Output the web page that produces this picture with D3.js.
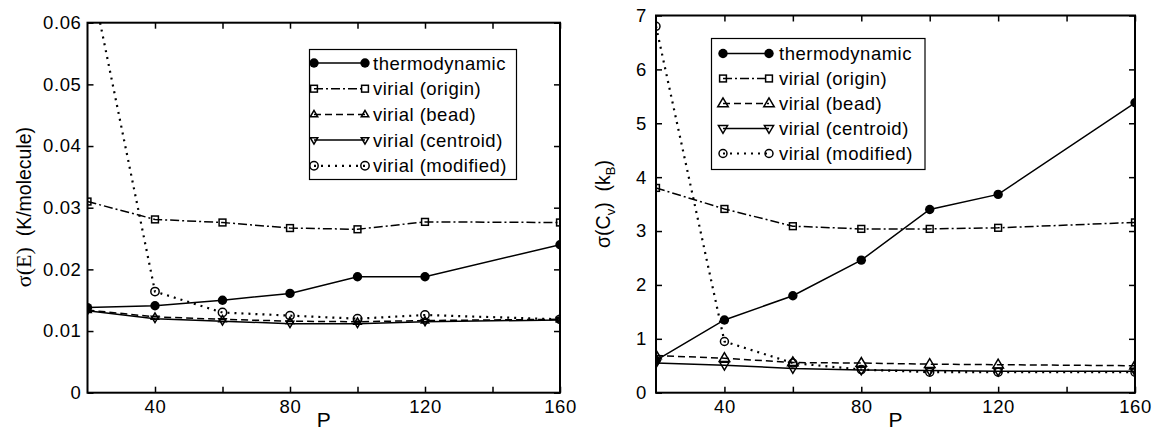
<!DOCTYPE html>
<html><head><meta charset="utf-8">
<script src="https://cdn.jsdelivr.net/npm/d3@7"></script>
<style>
body{margin:0;background:#fff;}
text{font-family:"Liberation Sans",Arial,sans-serif;fill:#000;}
</style></head>
<body><svg id="c" width="1156" height="437"></svg>
<script>
const P = [20, 40, 60, 80, 100, 120, 160];
const xTicks = [40, 60, 80, 100, 120, 140, 160];
const xTickLabels = ["40", "", "80", "", "120", "", "160"];
const seriesNames = ["thermodynamic", "virial (origin)", "virial (bead)", "virial (centroid)", "virial (modified)"];

const leftThermo    = [0.0138, 0.0141, 0.0150, 0.0161, 0.0188, 0.0188, 0.0240];
const leftOrigin    = [0.0310, 0.0281, 0.0276, 0.0267, 0.0265, 0.0277, 0.0276];
const leftBead      = [0.0134, 0.0123, 0.0119, 0.0116, 0.0115, 0.0117, 0.0119];
const leftCentroid  = [0.0133, 0.0120, 0.0116, 0.0112, 0.0112, 0.0115, 0.0118];
const leftModified  = [0.0700, 0.0164, 0.0130, 0.0125, 0.0120, 0.0126, 0.0119];
const leftYTicks = [0, 0.01, 0.02, 0.03, 0.04, 0.05, 0.06];
const leftYTickLabels = ["0", "0.01", "0.02", "0.03", "0.04", "0.05", "0.06"];

const rightThermo   = [0.60, 1.35, 1.80, 2.46, 3.40, 3.68, 5.38];
const rightOrigin   = [3.80, 3.41, 3.09, 3.04, 3.04, 3.06, 3.16];
const rightBead     = [0.69, 0.64, 0.56, 0.55, 0.53, 0.52, 0.50];
const rightCentroid = [0.55, 0.51, 0.45, 0.42, 0.41, 0.40, 0.40];
const rightModified = [6.80, 0.95, 0.55, 0.43, 0.38, 0.38, 0.38];
const rightYTicks = [0, 1, 2, 3, 4, 5, 6, 7];
const rightYTickLabels = ["0", "1", "2", "3", "4", "5", "6", "7"];

const svg = d3.select("#c");

const styles = [
  {dash: null, marker: "fcircle"},
  {dash: "9,3,2,3", marker: "square"},
  {dash: "7,4", marker: "tri"},
  {dash: null, marker: "itri"},
  {dash: "2,5", marker: "ocircle", width: 2.2}
];

function drawMarker(g, type, x, y, s) {
  if (type === "fcircle") {
    g.append("circle").attr("cx", x).attr("cy", y).attr("r", 4.7*s).attr("fill", "#000");
  } else if (type === "ocircle") {
    g.append("circle").attr("cx", x).attr("cy", y).attr("r", 3.8*s).attr("fill", "none").attr("stroke", "#000").attr("stroke-width", 1.5);
  } else if (type === "square") {
    const h = 3.4*s;
    g.append("rect").attr("x", x-h).attr("y", y-h).attr("width", 2*h).attr("height", 2*h).attr("fill", "none").attr("stroke", "#000").attr("stroke-width", 1.5);
  } else if (type === "tri" || type === "itri") {
    const r = 4.6*s, sgn = type === "tri" ? 1 : -1;
    const pts = [[x, y - sgn*r], [x - r*0.95, y + sgn*r*0.6], [x + r*0.95, y + sgn*r*0.6]];
    g.append("polygon").attr("points", pts.map(p => p.join(",")).join(" ")).attr("fill", "none").attr("stroke", "#000").attr("stroke-width", 1.5);
  }
}

function panel(cfg) {
  const x = d3.scaleLinear().domain([20, 160]).range([cfg.l, cfg.r]);
  const y = d3.scaleLinear().domain(cfg.yDomain).range([cfg.b, cfg.t]);
  const g = svg.append("g");
  const clipId = "clip" + cfg.id;
  svg.append("clipPath").attr("id", clipId).append("rect")
    .attr("x", cfg.l).attr("y", cfg.t).attr("width", cfg.r - cfg.l).attr("height", cfg.b - cfg.t);

  const fmtX = (d, i) => xTickLabels[i];
  const fmtY = (d, i) => cfg.yLabels[i];
  const ax = [
    g.append("g").attr("transform", `translate(0,${cfg.b})`).call(d3.axisBottom(x).tickValues(xTicks).tickFormat(fmtX).tickSizeInner(-6).tickSizeOuter(0).tickPadding(7)),
    g.append("g").attr("transform", `translate(0,${cfg.t})`).call(d3.axisTop(x).tickValues(xTicks).tickFormat("").tickSizeInner(-6).tickSizeOuter(0)),
    g.append("g").attr("transform", `translate(${cfg.l},0)`).call(d3.axisLeft(y).tickValues(cfg.yTicks).tickFormat(fmtY).tickSizeInner(-6).tickSizeOuter(0).tickPadding(cfg.yPad)),
    g.append("g").attr("transform", `translate(${cfg.r},0)`).call(d3.axisRight(y).tickValues(cfg.yTicks).tickFormat("").tickSizeInner(-6).tickSizeOuter(0))
  ];
  ax.forEach(a => {
    a.select(".domain").remove();
    a.selectAll("line").attr("stroke", "#000").attr("stroke-width", 1.5);
    a.selectAll("text").attr("font-size", 18.5).attr("letter-spacing", 0.6).attr("font-family", "Liberation Sans, Arial, sans-serif").attr("fill", "#000");
  });
  g.append("rect").attr("x", cfg.l).attr("y", cfg.t).attr("width", cfg.r - cfg.l).attr("height", cfg.b - cfg.t)
    .attr("fill", "none").attr("stroke", "#000").attr("stroke-width", 2);

  const dg = g.append("g").attr("clip-path", `url(#${clipId})`);
  const line = d3.line().x((d, i) => x(P[i])).y(d => y(d));
  cfg.series.forEach((vals, k) => {
    const st = styles[k];
    dg.append("path").attr("d", line(vals)).attr("fill", "none").attr("stroke", "#000")
      .attr("stroke-width", st.width || 1.5).attr("stroke-dasharray", st.dash);
    vals.forEach((v, i) => drawMarker(dg, st.marker, x(P[i]), y(v), cfg.ms[k]));
  });

  const L = cfg.legend;
  const lg = g.append("g");
  lg.append("rect").attr("x", L.x0).attr("y", L.y0).attr("width", L.x1 - L.x0).attr("height", L.y1 - L.y0)
    .attr("fill", "#fff").attr("stroke", "#000").attr("stroke-width", 1.2);
  seriesNames.forEach((name, k) => {
    const st = styles[k];
    const yy = L.row0 + k * L.dy;
    lg.append("line").attr("x1", L.lx0).attr("x2", L.lx1).attr("y1", yy).attr("y2", yy)
      .attr("stroke", "#000").attr("stroke-width", st.width || 1.5).attr("stroke-dasharray", st.dash);
    drawMarker(lg, st.marker, L.lx0, yy, cfg.ms[k]);
    drawMarker(lg, st.marker, L.lx1, yy, cfg.ms[k]);
    lg.append("text").attr("x", L.tx).attr("y", yy + 6.5).attr("font-size", 18.5).attr("letter-spacing", 0.5).text(name);
  });

  g.append("text").attr("x", (cfg.l + cfg.r) / 2).attr("y", 427).attr("text-anchor", "middle")
    .attr("font-size", 21).text("P");
  return {x, y};
}

panel({
  id: "L", l: 87.5, r: 560, t: 22.7, b: 392.7, yDomain: [0, 0.06],
  yTicks: leftYTicks, yLabels: leftYTickLabels, yPad: 6,
  series: [leftThermo, leftOrigin, leftBead, leftCentroid, leftModified],
  ms: [1, 1, 0.85, 0.85, 1.1],
  legend: {x0: 309.5, x1: 516.5, y0: 49.5, y1: 179.5, row0: 63, dy: 25.7, lx0: 314, lx1: 365, tx: 373}
});
panel({
  id: "R", l: 656, r: 1135, t: 15.5, b: 392.7, yDomain: [0, 7],
  yTicks: rightYTicks, yLabels: rightYTickLabels, yPad: 9,
  series: [rightThermo, rightOrigin, rightBead, rightCentroid, rightModified],
  ms: [1, 1, 1.2, 1.05, 1.05],
  legend: {x0: 711.5, x1: 925, y0: 38.5, y1: 169.5, row0: 53.5, dy: 25, lx0: 723, lx1: 769, tx: 779}
});

const yl1 = svg.append("text").attr("transform", "translate(31,207) rotate(-90)").attr("text-anchor", "middle").attr("font-size", 19.5);
yl1.append("tspan").attr("font-family", "Liberation Serif, Times New Roman, serif").attr("font-size", 22).text("σ(E)");
yl1.append("tspan").text("\u00a0\u00a0(K/molecule)");

const yl2 = svg.append("text").attr("transform", "translate(610,204) rotate(-90)").attr("text-anchor", "middle").attr("font-size", 19.5);
yl2.append("tspan").text("σ(C");
yl2.append("tspan").attr("font-size", 13).attr("dy", 5).text("v");
yl2.append("tspan").attr("dy", -5).text(")\u00a0\u00a0(k");
yl2.append("tspan").attr("font-size", 13).attr("dy", 5).text("B");
yl2.append("tspan").attr("dy", -5).text(")");
</script></body></html>
